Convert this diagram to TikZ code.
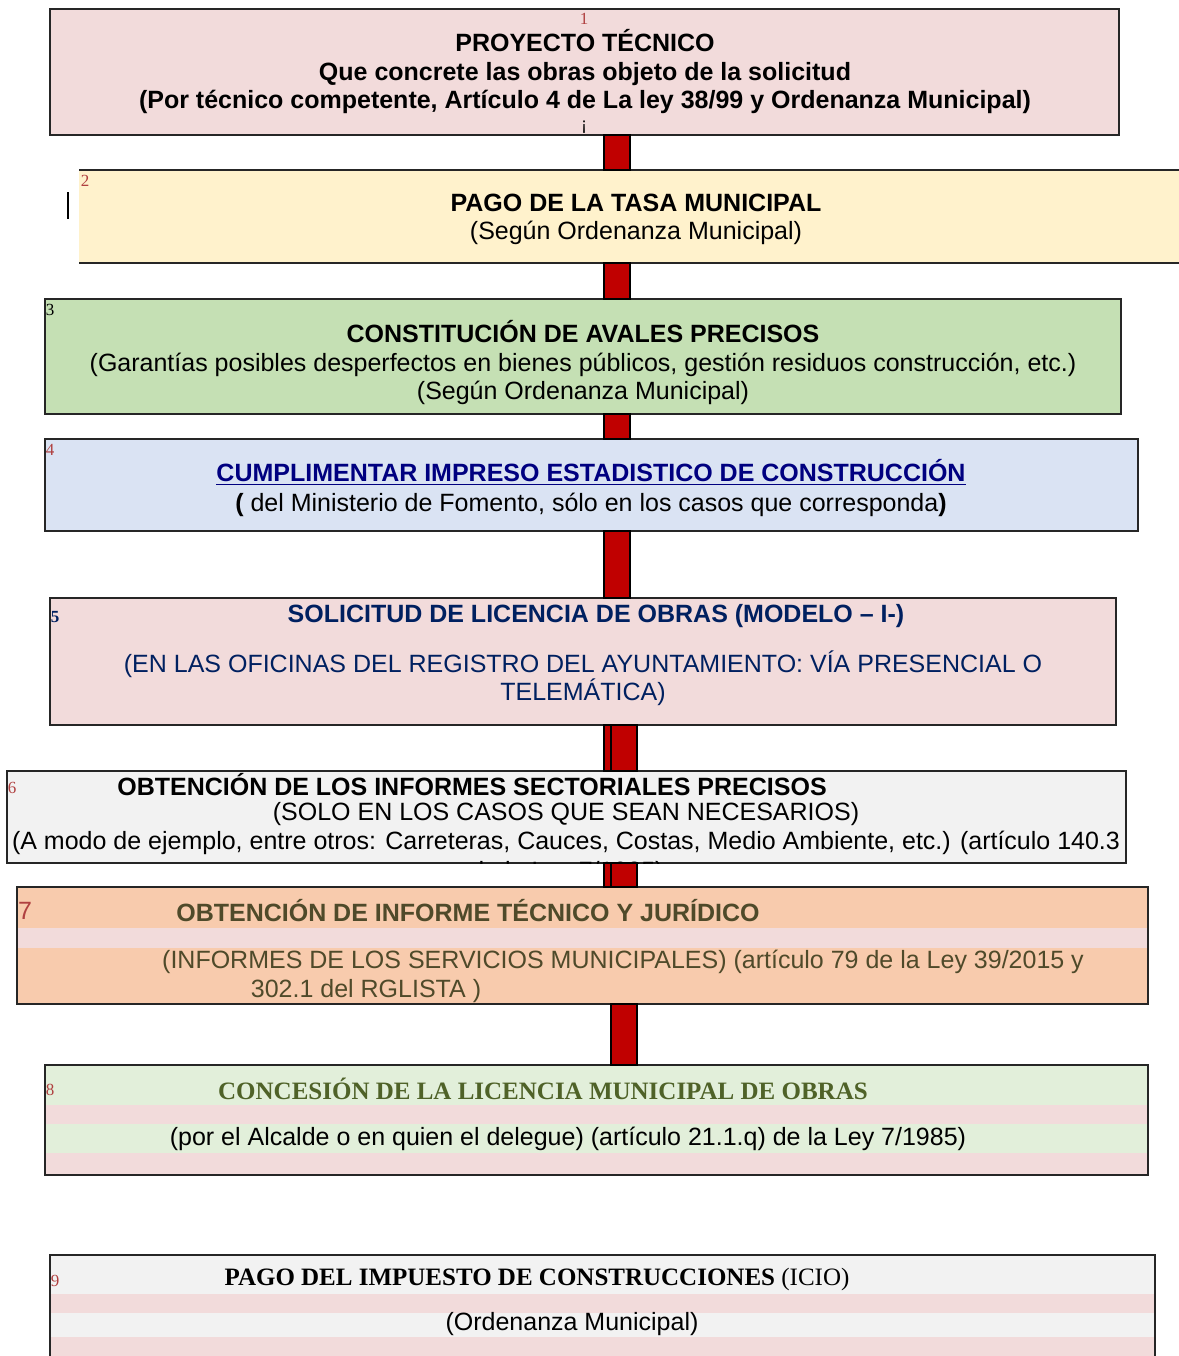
\documentclass[tikz,border=0pt]{standalone}
\usepackage{fontspec}
\setmainfont{Liberation Sans}
\newfontfamily\timesfont{Liberation Serif}

\definecolor{rosa}{HTML}{F2DBDB}
\definecolor{crema}{HTML}{FFF2CC}
\definecolor{verde}{HTML}{C5E0B4}
\definecolor{azulclaro}{HTML}{DAE3F3}
\definecolor{gris}{HTML}{F2F2F2}
\definecolor{salmon}{HTML}{F8CBAD}
\definecolor{verdeclaro}{HTML}{E2EFDA}
\definecolor{rojobarra}{HTML}{C00000}
\definecolor{numrojo}{HTML}{B04040}
\definecolor{azuloscuro}{HTML}{002060}
\definecolor{marino}{HTML}{000080}
\definecolor{oliva}{HTML}{4F4A2A}
\definecolor{verdeosc}{HTML}{4F6228}

\tikzset{
  caja/.style={draw=black!85, line width=0.6pt, inner sep=0pt, outer sep=0pt, anchor=north west},
  num/.style={font=\timesfont\fontsize{8.5}{9}\selectfont, text=numrojo, inner sep=0pt},
  texto/.style={font=\fontsize{12.5}{14.25}\selectfont, align=center, inner sep=0pt},
  negrita/.style={texto, font=\fontsize{12.5}{14.25}\selectfont\bfseries},
  titserif/.style={font=\timesfont\fontsize{12.5}{14}\selectfont, inner sep=0pt},
  barra/.style={fill=rojobarra, draw=black, line width=0.6pt},
}

\begin{document}
\begin{tikzpicture}[x=0.5pt, y=-0.5pt]
  \useasboundingbox (0,0) rectangle (1179,1356);

  % spine of the connectors
  \coordinate (spineL) at (604,0);
  \coordinate (spineR) at (630,0);
  \coordinate (thinR) at (611,0);
  \coordinate (wideR) at (637,0);

  % boxes
  \node[caja, fill=rosa, minimum width=534.5pt, minimum height=63pt] (proy) at (50,9) {};
  \node[caja, draw=none, fill=crema, minimum width=550pt, minimum height=46.5pt] (tasa) at (79,170) {};
  \draw[black!85, line width=0.6pt] (tasa.north west) -- (tasa.north east)
    (tasa.south west) -- (tasa.south east);
  \node[caja, fill=verde, minimum width=538pt, minimum height=57.5pt] (aval) at (45,299) {};
  \node[caja, fill=azulclaro, minimum width=546.5pt, minimum height=46pt] (estad) at (45,439) {};
  \node[caja, fill=rosa, minimum width=533pt, minimum height=63.5pt] (solic) at (50,598) {};
  \node[caja, fill=gris, minimum width=559.5pt, minimum height=46pt] (infsec) at (7,771) {};
  \node[caja, fill=salmon, minimum width=565.5pt, minimum height=58.5pt] (inftec) at (17,887) {};
  \node[caja, fill=verdeclaro, minimum width=551.5pt, minimum height=55pt] (conces) at (45,1065) {};
  \node[caja, fill=gris, minimum width=552.5pt, minimum height=60pt] (icio) at (50,1255) {};

  % stripes inside the last boxes
  \fill[rosa] (18,928) rectangle (1147,948);
  \fill[rosa] (46,1105) rectangle (1147,1124);
  \fill[rosa] (46,1153) rectangle (1147,1174);
  \fill[rosa] (51,1294) rectangle (1154,1313);
  \fill[rosa] (51,1337) rectangle (1154,1356);

  % connectors
  \foreach \a/\b in {proy/tasa, tasa/aval, aval/estad, estad/solic} {
    \filldraw[barra] (\a.south -| spineL) rectangle (\b.north -| spineR);
  }
  \foreach \a/\b in {solic/infsec, infsec/inftec} {
    \filldraw[barra] (\a.south -| spineL) rectangle (\b.north -| thinR);
    \filldraw[barra] (\a.south -| thinR) rectangle (\b.north -| wideR);
  }
  \filldraw[barra] (inftec.south -| thinR) rectangle (conces.north -| wideR);

  % numbers
  \node[num] (n1) at (584,19) {1};
  \node[num] (n2) at (85,181) {2};
  \node[num, text=black] (n3) at (50,310) {3};
  \node[num] (n4) at (50,450) {4};
  \node[num, text=azuloscuro, font=\timesfont\bfseries\fontsize{8.5}{9}\selectfont] (n5) at (55,617) {5};
  \node[num] (n6) at (12,788) {6};
  \node[texto, text=numrojo] (n7) at (25,911) {7};
  \node[num] (n8) at (50,1090) {8};
  \node[num] (n9) at (55,1281) {9};

  % texts
  \node[negrita] (proytxt) at (585,72) {PROYECTO TÉCNICO\\Que concrete las obras objeto de la solicitud\\(Por técnico competente, Artículo 4 de La ley 38/99 y Ordenanza Municipal)};
  \node[texto, font=\fontsize{9}{10}\selectfont] (marca) at (584,127) {¡};
  \draw[black, line width=1pt] (68,192) -- (68,219);
  \node[texto] (tasatxt) at (636,219.5) {\textbf{PAGO DE LA TASA MUNICIPAL}\\(Según Ordenanza Municipal)};
  \node[texto] (avaltxt) at (583,363) {\textbf{CONSTITUCIÓN DE AVALES PRECISOS}\\(Garantías posibles desperfectos en bienes públicos, gestión residuos construcción, etc.)\\(Según Ordenanza Municipal)};
  \node[texto, font=\fontsize{12.5}{15}\selectfont] (estadtxt) at (591,488) {\textcolor{marino}{\textbf{\underline{CUMPLIMENTAR IMPRESO ESTADISTICO DE CONSTRUCCIÓN}}}\\\textbf{(} del Ministerio de Fomento, sólo en los casos que corresponda\textbf{)}};
  \node[negrita, text=azuloscuro] (solictit) at (596,616) {SOLICITUD DE LICENCIA DE OBRAS (MODELO – I-)};
  \node[texto, text=azuloscuro] (solictxt) at (583,678) {(EN LAS OFICINAS DEL REGISTRO DEL AYUNTAMIENTO: VÍA PRESENCIAL O\\TELEMÁTICA)};
  \node[negrita] (infsectit) at (472,785) {OBTENCIÓN DE LOS INFORMES SECTORIALES PRECISOS};
  \node[texto] (infsecl1) at (566,814) {(SOLO EN LOS CASOS QUE SEAN NECESARIOS)};
  \node[texto] (infsecl2) at (566,843) {(A modo de ejemplo, entre otros: Carreteras, Cauces, Costas, Medio Ambiente, etc.) (artículo 140.3};
  \begin{scope}
    \clip (infsec.north west) rectangle (infsec.south east);
    \node[texto] (infsecl3) at (567,873) {de la Ley 7/1985)};
  \end{scope}
  \node[negrita, text=oliva] (inftectit) at (468,911) {OBTENCIÓN DE INFORME TÉCNICO Y JURÍDICO};
  \node[texto, text=oliva] (inftecl1) at (623,962) {(INFORMES DE LOS SERVICIOS MUNICIPALES) (artículo 79 de la Ley 39/2015 y};
  \node[texto, text=oliva] (inftecl2) at (366,991) {302.1 del RGLISTA )};
  \node[titserif, text=verdeosc, font=\timesfont\bfseries\fontsize{12.5}{14}\selectfont] (concestit) at (543,1089) {CONCESIÓN DE LA LICENCIA MUNICIPAL DE OBRAS};
  \node[texto] (concestxt) at (568,1139) {(por el Alcalde o en quien el delegue) (artículo 21.1.q) de la Ley 7/1985)};
  \node[titserif] (iciotit) at (537,1279) {\textbf{PAGO DEL IMPUESTO DE CONSTRUCCIONES} (ICIO)};
  \node[texto] (iciotxt) at (572,1324) {(Ordenanza Municipal)};
\end{tikzpicture}
\end{document}
